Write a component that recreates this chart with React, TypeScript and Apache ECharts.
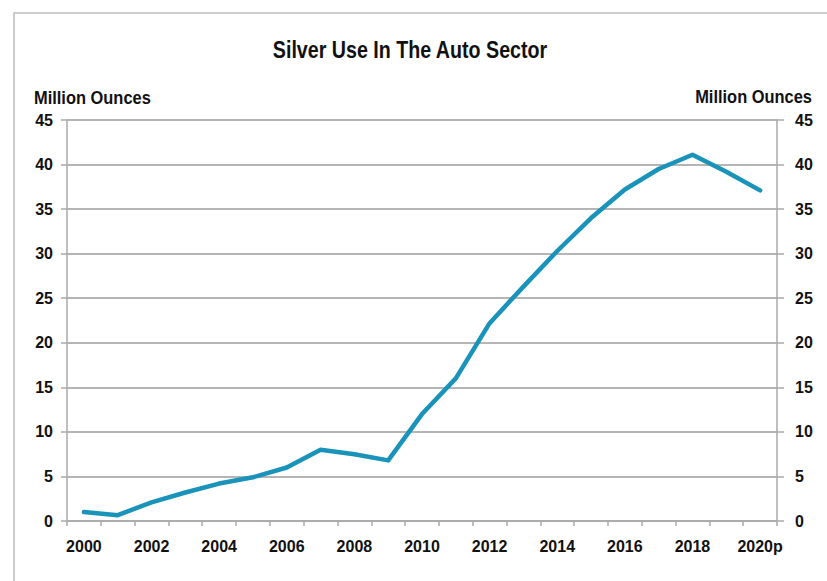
import React, { useEffect, useRef } from "react";
import * as echarts from "echarts";

const years: string[] = [
  "2000", "2001", "2002", "2003", "2004", "2005", "2006", "2007", "2008", "2009",
  "2010", "2011", "2012", "2013", "2014", "2015", "2016", "2017", "2018", "2019", "2020p",
];
const silverUse: number[] = [
  1.0, 0.65, 2.1, 3.2, 4.2, 4.9, 6.0, 8.0, 7.5, 6.8,
  12.0, 16.0, 22.2, 26.3, 30.3, 34.0, 37.2, 39.5, 41.1, 39.2, 37.1,
];
const titleText = "Silver Use In The Auto Sector";
const axisTitle = "Million Ounces";

const FONT = "Liberation Sans, Arial, Helvetica, sans-serif";
const tickFont = { fontFamily: FONT, fontWeight: "bold" as const, fontSize: 16, color: "#111" };

export default function App() {
  const ref = useRef<HTMLDivElement>(null);
  useEffect(() => {
    if (!ref.current) return;
    const chart = echarts.init(ref.current, null, { renderer: "svg" });
    const yAxisBase = {
      type: "value" as const,
      min: 0,
      max: 45,
      interval: 5,
      axisLine: { show: true, lineStyle: { color: "#aaa", width: 1.5 } },
      axisTick: { show: true, length: 6, lineStyle: { color: "#aaa", width: 1.5 } },
    };
    chart.setOption({
      animation: false,
      backgroundColor: "#fff",
      grid: { left: 67, right: 50, top: 120, bottom: 60, containLabel: false },
      xAxis: {
        type: "category",
        data: years,
        boundaryGap: true,
        axisLine: { show: true, lineStyle: { color: "#aaa", width: 1.5 } },
        axisTick: { show: true, interval: 0, length: 5, lineStyle: { color: "#aaa", width: 1.5 } },
        axisLabel: { interval: 1, margin: 17, ...tickFont },
        splitLine: { show: false },
      },
      yAxis: [
        {
          ...yAxisBase,
          position: "left",
          axisLabel: { margin: 14, ...tickFont },
          splitLine: { show: true, lineStyle: { color: "#9c9c9c", width: 1.5 } },
        },
        {
          ...yAxisBase,
          position: "right",
          axisTick: { show: true, length: 7, lineStyle: { color: "#aaa", width: 1.5 } },
          axisLabel: { margin: 18, ...tickFont },
          splitLine: { show: false },
        },
      ],
      series: [
        {
          type: "line",
          data: silverUse,
          yAxisIndex: 0,
          symbol: "none",
          lineStyle: { color: "#1a93ba", width: 4.5, join: "round", cap: "round" },
        },
      ],
      graphic: [
        {
          type: "rect",
          shape: { x: 14, y: 13, width: 900, height: 700 },
          style: { fill: "none", stroke: "#bdbdbd", lineWidth: 1.5 },
          silent: true,
        },
        {
          type: "text",
          x: 410,
          y: 50,
          scaleX: 0.855,
          style: {
            text: titleText,
            fontFamily: FONT,
            fontWeight: "bold",
            fontSize: 23,
            fill: "#111",
            textAlign: "center",
            textVerticalAlign: "middle",
          },
        },
        {
          type: "text",
          x: 34,
          y: 98,
          scaleX: 0.865,
          style: {
            text: axisTitle,
            fontFamily: FONT,
            fontWeight: "bold",
            fontSize: 19,
            fill: "#111",
            textAlign: "left",
            textVerticalAlign: "middle",
          },
        },
        {
          type: "text",
          x: 812,
          y: 97,
          scaleX: 0.865,
          style: {
            text: axisTitle,
            fontFamily: FONT,
            fontWeight: "bold",
            fontSize: 19,
            fill: "#111",
            textAlign: "right",
            textVerticalAlign: "middle",
          },
        },
      ],
    });
    return () => chart.dispose();
  }, []);
  return (
    <div
      ref={ref}
      style={{ position: "fixed", left: 0, top: 0, width: 827, height: 581, background: "#fff" }}
    />
  );
}
